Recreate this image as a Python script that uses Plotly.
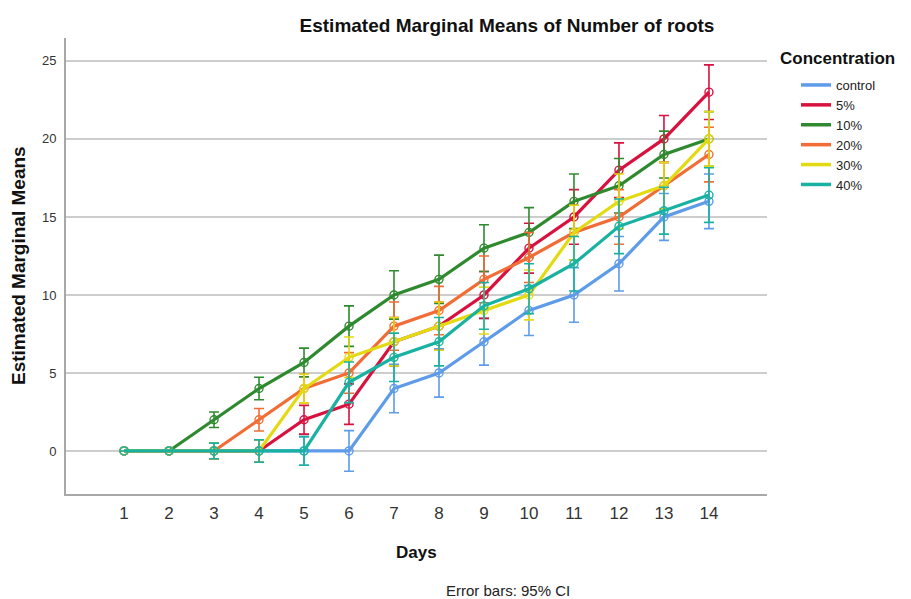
import plotly.graph_objects as go

days = list(range(1, 15))
series_names = ["control", "5%", "10%", "20%", "30%", "40%"]
control = [0, 0, 0, 0, 0, 0, 4, 5, 7, 9, 10, 12, 15, 16]
pct5 = [0, 0, 0, 0, 2, 3, 7, 8, 10, 13, 15, 18, 20, 23]
pct10 = [0, 0, 2, 4, 5.67, 8, 10, 11, 13, 14, 16, 17, 19, 20]
pct20 = [0, 0, 0, 2, 4, 5, 8, 9, 11, 12.4, 14, 15, 17, 19]
pct30 = [0, 0, 0, 0, 4, 6, 7, 8, 9, 10, 14, 16, 17, 20]
pct40 = [0, 0, 0, 0, 0, 4.4, 6, 7, 9.3, 10.4, 12, 14.4, 15.4, 16.4]
ci_half = [0, 0, 0.5, 0.72, 0.92, 1.3, 1.55, 1.55, 1.5, 1.6, 1.75, 1.75, 1.5, 1.75]
colors = ["#5E9BE8", "#D8123F", "#2F8A2F", "#F26D36", "#E4DA12", "#19B2A2"]

values = [control, pct5, pct10, pct20, pct30, pct40]

# page body has an 8px margin; figure is sized/offset to compensate
OFF = 8
W, H = 911 - OFF, 599 - OFF
L, T, PW, PH = 66 - OFF, 38 - OFF, 701, 456


def px(xp):
    return (xp - OFF - L) / PW


def py(yp):
    return 1 - (yp - OFF - T) / PH


fig = go.Figure()
FONT = "Liberation Sans, Arial, sans-serif"

for name, vals, col in zip(series_names, values, colors):
    fig.add_trace(go.Scatter(
        x=days, y=vals, mode="lines+markers", name=name, showlegend=False,
        line=dict(color=col, width=3.2),
        marker=dict(symbol="circle-open", size=8, color=col, line=dict(width=1.4, color=col)),
        error_y=dict(type="data", array=ci_half, visible=True, color=col, thickness=1.6, width=5),
    ))

for name, col in zip(series_names, colors):
    fig.add_trace(go.Scatter(
        x=[None], y=[None], mode="lines", name=name, showlegend=True,
        line=dict(color=col, width=3.5),
    ))

fig.update_layout(
    width=W, height=H,
    margin=dict(l=L, r=W - L - PW, t=T, b=H - T - PH),
    paper_bgcolor="white", plot_bgcolor="white",
    font=dict(family=FONT, color="#222222"),
    title=dict(text="<b>Estimated Marginal Means of Number of roots</b>",
               x=(507 - OFF) / W, xref="container", xanchor="center",
               y=1 - (25 - OFF) / H, yref="container", yanchor="middle",
               font=dict(size=19, color="#111111")),
    xaxis=dict(range=[-0.29, 15.29], tickvals=days, ticktext=[str(d) for d in days],
               showgrid=False, zeroline=False, showline=True, linecolor="#A8A8A8",
               linewidth=2, ticks="", tickfont=dict(size=17, color="#333333"),
               ticklabelstandoff=3),
    yaxis=dict(range=[-2.76, 26.47], tickvals=[0, 5, 10, 15, 20, 25],
               showgrid=True, gridcolor="#CDCDCD", gridwidth=1.5, zeroline=False,
               showline=True, linecolor="#A8A8A8", linewidth=2, ticks="",
               tickfont=dict(size=13, color="#333333"), ticklabelstandoff=5),
    showlegend=True,
    legend=dict(x=px(796), xanchor="left", y=py(70), yanchor="top",
                font=dict(size=13, color="#222222"), bgcolor="rgba(0,0,0,0)",
                tracegroupgap=0, itemwidth=30),
    annotations=[
        dict(text="<b>Concentration</b>", xref="paper", yref="paper",
             x=px(778), y=py(58), xanchor="left", yanchor="middle",
             showarrow=False, font=dict(size=17, color="#111111")),
        dict(text="<b>Estimated Marginal Means</b>", xref="paper", yref="paper",
             x=px(18), y=0.5, xanchor="center", yanchor="middle", textangle=-90,
             showarrow=False, font=dict(size=19, color="#111111")),
        dict(text="<b>Days</b>", xref="paper", yref="paper",
             x=px(417), y=py(552), xanchor="center", yanchor="middle",
             showarrow=False, font=dict(size=17, color="#111111")),
        dict(text="Error bars: 95% CI", xref="paper", yref="paper",
             x=px(508), y=py(590), xanchor="center", yanchor="middle",
             showarrow=False, font=dict(size=15, color="#222222")),
    ],
)

fig.write_html("out.html")
